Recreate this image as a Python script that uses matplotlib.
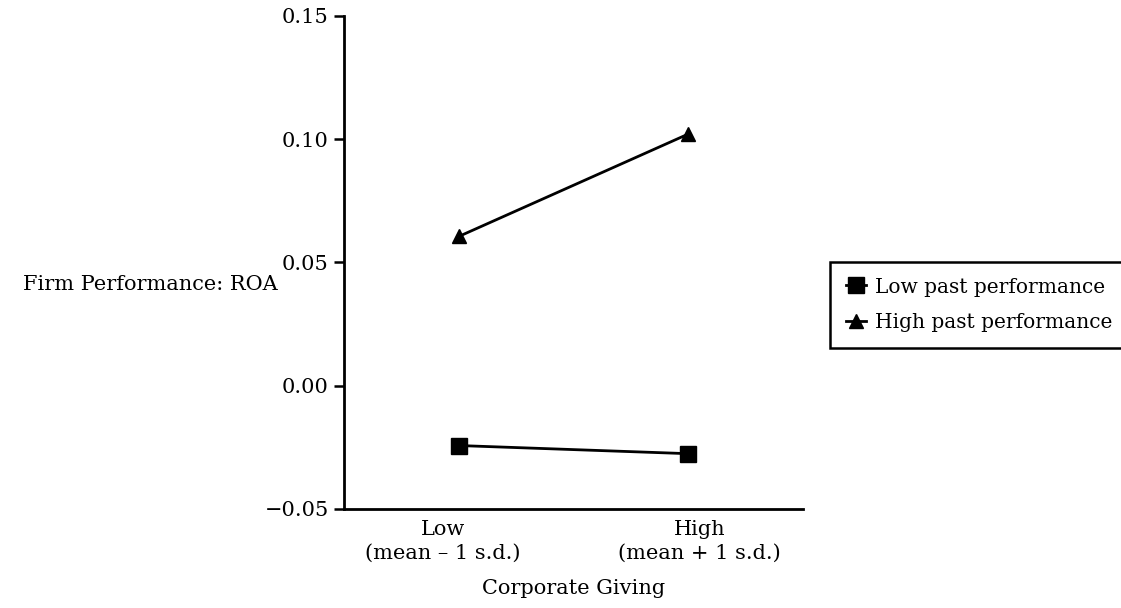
import matplotlib
matplotlib.use("Agg")
import matplotlib.pyplot as plt

giving_levels = [0, 1]
giving_labels = ["Low\n(mean \u2013 1 s.d.)", "High\n(mean + 1 s.d.)"]
low_past = [-0.0243, -0.0276]
high_past = [0.0605, 0.1020]
y_ticks = [-0.05, 0.00, 0.05, 0.10, 0.15]

plt.rcParams["font.family"] = ["DejaVu Serif"]
plt.rcParams["font.size"] = 15

fig = plt.figure(figsize=(11.21, 6.08), dpi=100)
ax = fig.add_axes([0.307, 0.163, 0.409, 0.811])

ax.plot(giving_levels, low_past, color="black", linewidth=2, marker="s",
        markersize=11, label="Low past performance")
ax.plot(giving_levels, high_past, color="black", linewidth=2, marker="^",
        markersize=10, label="High past performance")

ax.set_xlim(-0.5, 1.5)
ax.set_ylim(-0.05, 0.15)
ax.set_yticks(y_ticks)
ax.set_yticklabels([f"{v:.2f}".replace("-", "\u2212") for v in y_ticks])
ax.set_xticks([-0.07, 1.05])
ax.set_xticklabels(giving_labels, linespacing=1.35)
ax.tick_params(axis="x", length=0, pad=8)
ax.tick_params(axis="y", length=7, width=1.8, direction="out", pad=4)

for side in ["top", "right"]:
    ax.spines[side].set_visible(False)
for side in ["left", "bottom"]:
    ax.spines[side].set_linewidth(2)

ax.set_xlabel("Corporate Giving", labelpad=11)
ax.set_ylabel("Firm Performance: ROA", rotation=0, ha="right", va="center")
ax.yaxis.set_label_coords(-0.145, 0.455)

leg = fig.legend(loc="upper left", bbox_to_anchor=(830 / 1121, 1 - 262 / 608),
                 frameon=True, fancybox=False, edgecolor="black", framealpha=1,
                 handlelength=1.0, handletextpad=0.4, borderpad=0.75,
                 labelspacing=0.8, borderaxespad=0)
leg.get_frame().set_linewidth(1.8)
for txt in leg.get_texts():
    txt.set_fontsize(14.5)

fig.savefig("out.png", dpi=100)
